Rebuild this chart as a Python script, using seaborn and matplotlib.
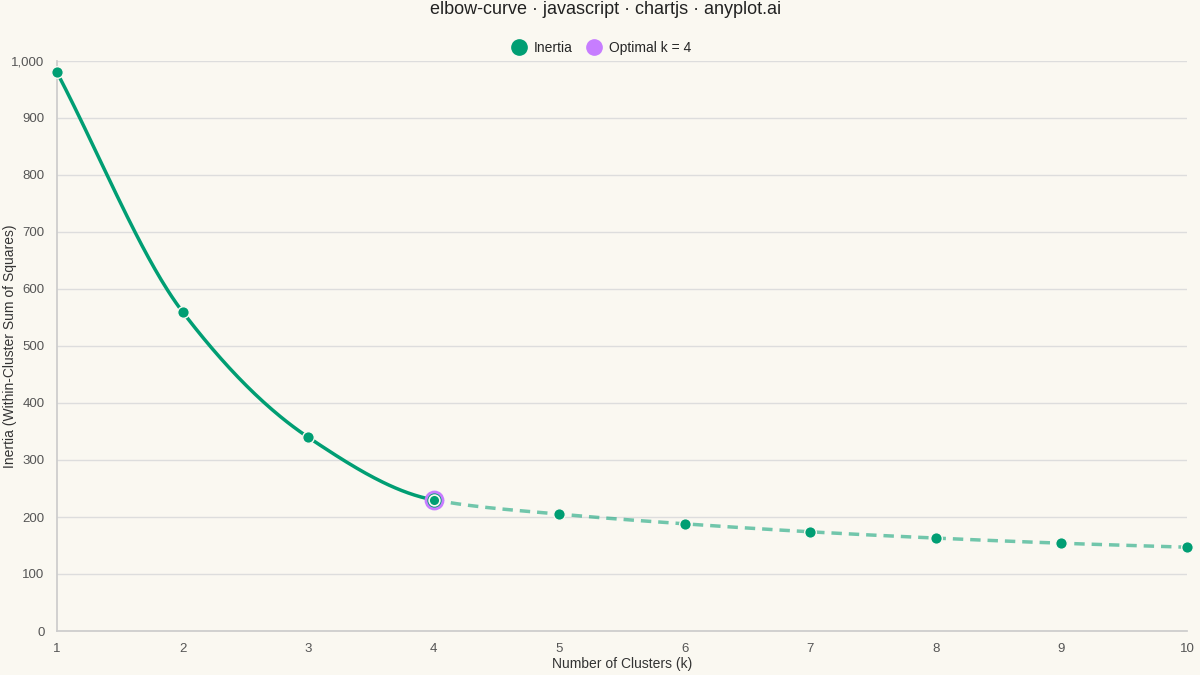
import numpy as np
import matplotlib
matplotlib.use("Agg")
import matplotlib.pyplot as plt
import seaborn as sns
from matplotlib.lines import Line2D

k_values = [1, 2, 3, 4, 5, 6, 7, 8, 9, 10]
inertia = [980, 560, 340, 230, 205, 188, 174, 163, 154, 147]
optimal_k = 4
x_ticks = list(range(1, 11))
y_ticks = list(range(0, 1001, 100))

BG = "#FAF8F1"
GREEN = "#009E73"
PURPLE = "#C77DFF"

def monotone(x, y, n=60):
    x = np.asarray(x, float); y = np.asarray(y, float)
    h = np.diff(x); d = np.diff(y) / h
    m = np.zeros_like(y)
    m[0], m[-1] = d[0], d[-1]
    for i in range(1, len(y) - 1):
        if d[i - 1] * d[i] <= 0:
            m[i] = 0
        else:
            w1 = 2 * h[i] + h[i - 1]; w2 = h[i] + 2 * h[i - 1]
            m[i] = (w1 + w2) / (w1 / d[i - 1] + w2 / d[i])
    xs, ys = [], []
    for i in range(len(h)):
        t = np.linspace(0, 1, n)
        h00 = 2*t**3 - 3*t**2 + 1; h10 = t**3 - 2*t**2 + t
        h01 = -2*t**3 + 3*t**2; h11 = t**3 - t**2
        xs.append(x[i] + t * h[i])
        ys.append(h00*y[i] + h10*h[i]*m[i] + h01*y[i+1] + h11*h[i]*m[i+1])
    return np.concatenate(xs), np.concatenate(ys)

sns.set_theme(style="whitegrid")
plt.rcParams['font.family'] = ['Liberation Sans', 'DejaVu Sans']

fig = plt.figure(figsize=(12, 6.75), dpi=100, facecolor=BG)
ax = fig.add_axes([57/1200, 1 - 631/675, 1130/1200, 570/675])
ax.set_facecolor(BG)

xs, ys = monotone(k_values, inertia)
split = 3 * 60
sns.lineplot(x=xs[:split], y=ys[:split], ax=ax, color=GREEN, lw=2.5, sort=False)
sns.lineplot(x=xs[split-1:], y=ys[split-1:], ax=ax, color=GREEN, alpha=0.55, lw=2.5, sort=False,
             linestyle=(0, (3, 2)))
pts = sns.scatterplot(x=k_values, y=inertia, ax=ax, color=GREEN, s=70, edgecolor=BG, linewidth=1, zorder=5)
for c in ax.collections:
    c.set_clip_on(False)
oi = k_values.index(optimal_k)
ax.scatter([optimal_k], [inertia[oi]], s=150, facecolor=GREEN, edgecolor=PURPLE, linewidth=2, zorder=6)
ax.scatter([optimal_k], [inertia[oi]], s=60, facecolor=GREEN, edgecolor=BG, linewidth=1.2, zorder=7)

ax.set_xlim(1, 10)
ax.set_ylim(0, 1000)
ax.set_xticks(x_ticks)
ax.set_yticks(y_ticks)
ax.set_yticklabels([f"{v:,}" for v in y_ticks])
ax.tick_params(labelsize=9.5, colors="#555555", length=5, color="#dddddd", pad=4)
ax.grid(axis="y", color="#dddddd", lw=1)
ax.grid(axis="x", visible=False)
for s in ["top", "right"]:
    ax.spines[s].set_visible(False)
for s in ["left", "bottom"]:
    ax.spines[s].set_color("#cccccc")
ax.set_xlabel("")
ax.set_ylabel("")
fig.text(622/1200, 1 - 664/675, "Number of Clusters (k)", ha="center", va="center", fontsize=10, color="#333333")
fig.text(10/1200, 1 - 346/675, "Inertia (Within-Cluster Sum of Squares)", ha="center", va="center",
         rotation=90, fontsize=10, color="#333333")

handles = [Line2D([], [], marker="o", ls="", color=GREEN, markersize=11),
           Line2D([], [], marker="o", ls="", color=PURPLE, markersize=11)]
fig.legend(handles, ["Inertia", f"Optimal k = {optimal_k}"], loc="center", bbox_to_anchor=(598/1200, 1 - 48/675),
           ncol=2, frameon=False, fontsize=10, handletextpad=0.1, columnspacing=0.5)
fig.text(606/1200, 1 - 10/675, "elbow-curve · javascript · chartjs · anyplot.ai", ha="center", va="center",
         fontsize=13, color="#222222")
fig.savefig("out.png", dpi=100, facecolor=BG)
